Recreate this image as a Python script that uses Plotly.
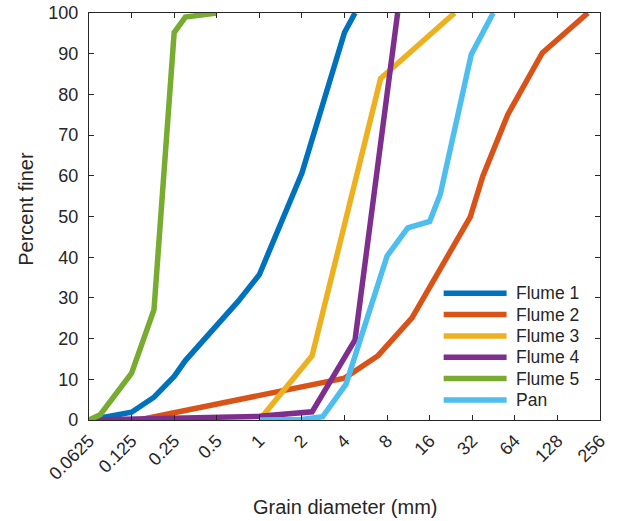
import plotly.graph_objects as go

# Sieve analysis: cumulative percent finer vs. grain diameter (mm)
flume1_d = [0.0625, 0.125, 0.18, 0.25, 0.30, 0.5, 0.71, 1.0, 2.0, 4.0, 4.75]
flume1_p = [0, 1.9, 5.6, 10.7, 14.6, 23.5, 29.2, 35.7, 60.7, 95.2, 100]

flume2_d = [0.14, 4.0, 6.9, 12.0, 31.0, 38.0, 57.0, 100.0, 210.0]
flume2_p = [0, 10.3, 15.8, 25.1, 49.9, 59.9, 75.0, 90.2, 100]

flume3_d = [1.0, 2.36, 7.2, 24.0]
flume3_p = [0, 15.8, 83.9, 100]

flume4_d = [0.0625, 1.0, 2.36, 4.75, 9.5]
flume4_p = [0, 0.9, 2.0, 19.7, 100]

flume5_d = [0.0625, 0.075, 0.125, 0.18, 0.25, 0.30, 0.5]
flume5_p = [0, 1.3, 11.5, 27.1, 95.2, 99.0, 100]

pan_d = [1.0, 2.0, 2.8, 4.1, 8.0, 11.2, 16.0, 19.0, 31.5, 45.0]
pan_p = [0, 0.1, 0.8, 8.8, 40.3, 47.2, 48.8, 55.4, 89.8, 100]

x_ticks = [0.0625, 0.125, 0.25, 0.5, 1, 2, 4, 8, 16, 32, 64, 128, 256]
x_tick_labels = ["0.0625", "0.125", "0.25", "0.5", "1", "2", "4", "8",
                 "16", "32", "64", "128", "256"]
y_ticks = [0, 10, 20, 30, 40, 50, 60, 70, 80, 90, 100]

series = [
    ("Flume 1", flume1_d, flume1_p, "#0072BD"),
    ("Flume 2", flume2_d, flume2_p, "#D95319"),
    ("Flume 3", flume3_d, flume3_p, "#EDB120"),
    ("Flume 4", flume4_d, flume4_p, "#7E2F8E"),
    ("Flume 5", flume5_d, flume5_p, "#77AC30"),
    ("Pan", pan_d, pan_p, "#4DBEEE"),
]

ink = "#262626"
font_family = "Liberation Sans, Arial, Helvetica, sans-serif"
line_w = 5.5

# Page geometry (pixels)
W, H = 618, 521
L, R, T, B = 89, 17.5, 13.3, 100.7
plot_w = W - L - R
plot_h = H - T - B


def px_x(px):
    return (px - L) / plot_w


def px_y(py):
    return (H - B - py) / plot_h


fig = go.Figure()
for name, d, p, color in series:
    fig.add_trace(go.Scatter(
        x=d, y=p, mode="lines", name=name,
        line=dict(color=color, width=line_w),
        cliponaxis=False, showlegend=False,
    ))

axis_common = dict(
    showline=True, linecolor=ink, linewidth=1.2,
    ticks="inside", ticklen=5, tickwidth=1, tickcolor=ink,
    mirror="ticks", showgrid=False, zeroline=False, automargin=False,
    tickfont=dict(family=font_family, size=18, color=ink),
)

fig.update_xaxes(
    type="log",
    range=[-1.2041199826559248, 2.408239965311849],
    tickvals=x_ticks, ticktext=x_tick_labels, tickangle=-45,
    ticklabelstandoff=2,
    **axis_common,
)
fig.update_yaxes(
    range=[0, 100], tickvals=y_ticks, ticklabelstandoff=6,
    **axis_common,
)

annotations = [
    dict(text="Grain diameter (mm)", xref="paper", yref="paper",
         x=px_x(345), y=px_y(507), xanchor="center", yanchor="middle",
         showarrow=False, font=dict(family=font_family, size=20, color=ink)),
    dict(text="Percent finer", xref="paper", yref="paper",
         x=px_x(26), y=px_y(209), xanchor="center", yanchor="middle",
         textangle=-90, showarrow=False,
         font=dict(family=font_family, size=20, color=ink)),
]

# Legend: sample line plus label for each series
shapes = []
row0, row_gap = 293.5, 21.35
for i, (name, d, p, color) in enumerate(series):
    cy = row0 + i * row_gap
    shapes.append(dict(
        type="line", xref="paper", yref="paper",
        x0=px_x(444), x1=px_x(507), y0=px_y(cy), y1=px_y(cy),
        line=dict(color=color, width=line_w),
    ))
    annotations.append(dict(
        text=name, xref="paper", yref="paper",
        x=px_x(514), y=px_y(cy), xanchor="left", yanchor="middle",
        showarrow=False, font=dict(family=font_family, size=17.5, color=ink),
    ))

fig.update_layout(
    width=W, height=H,
    margin=dict(l=L, r=R, t=T, b=B, autoexpand=False),
    paper_bgcolor="white", plot_bgcolor="white",
    showlegend=False,
    annotations=annotations, shapes=shapes,
)

fig.write_html("out.html")
